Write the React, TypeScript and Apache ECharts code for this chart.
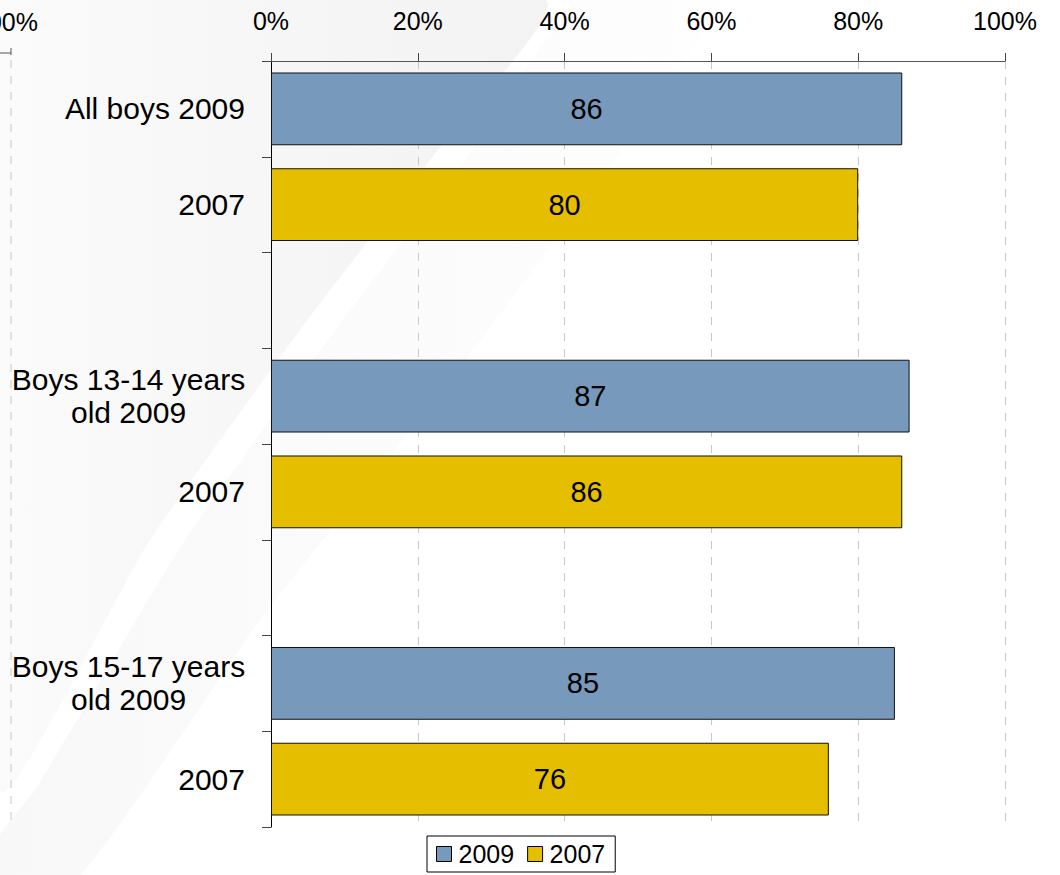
import React, { useEffect, useRef } from "react";
import * as echarts from "echarts";

const categories = [
  "All boys 2009",
  "2007",
  "",
  "Boys 13-14 years\nold 2009",
  "2007",
  "",
  "Boys 15-17 years\nold 2009",
  "2007",
];
const seriesNames = ["2009", "2007"];
const values2009: (number | string)[] = [86, "-", "-", 87, "-", "-", 85, "-"];
const values2007: (number | string)[] = ["-", 80, "-", "-", 86, "-", "-", 76];
const xTicks = [0, 20, 40, 60, 80, 100];

const FONT = "'Liberation Sans', Arial, sans-serif";

export default function App() {
  const ref = useRef<HTMLDivElement>(null);
  useEffect(() => {
    if (!ref.current) return;
    const chart = echarts.init(ref.current, undefined, { renderer: "svg" });
    const axisKeys = categories.map((_, i) => "c" + i);
    const option: any = {
      animation: false,
      backgroundColor: "#ffffff",
      textStyle: { fontFamily: FONT },
      graphic: [
        {
          type: "polygon",
          z: -10,
          silent: true,
          shape: {
            points: [
              [0, 0],
              [545, 0],
              [430, 160],
              [300, 330],
              [150, 540],
              [0, 790],
            ],
            smooth: 0.2,
          },
          style: {
            fill: {
              type: "linear",
              x: 0,
              y: 0,
              x2: 1,
              y2: 0,
              colorStops: [
                { offset: 0, color: "#fbfbfb" },
                { offset: 0.7, color: "#f5f5f5" },
                { offset: 1, color: "#f3f3f3" },
              ],
            },
          },
        },
        {
          type: "polygon",
          z: -10,
          silent: true,
          shape: {
            points: [
              [580, 0],
              [720, 0],
              [600, 180],
              [450, 380],
              [260, 620],
              [80, 875],
              [0, 875],
              [0, 835],
              [35, 790],
              [185, 540],
              [335, 330],
              [465, 160],
            ],
            smooth: 0.15,
          },
          style: {
            fill: {
              type: "linear",
              x: 0,
              y: 0,
              x2: 1,
              y2: 0,
              colorStops: [
                { offset: 0, color: "#f8f8f8" },
                { offset: 1, color: "#fefefe" },
              ],
            },
          },
        },
        {
          type: "text",
          z: 10,
          style: {
            text: "100%",
            x: 38,
            y: 22,
            align: "right",
            verticalAlign: "middle",
            fontSize: 25,
            fontFamily: FONT,
            fill: "#000",
          },
        },
        {
          type: "line",
          z: 10,
          shape: { x1: 0, y1: 53, x2: 11, y2: 53 },
          style: { stroke: "#555", lineWidth: 1 },
        },
        {
          type: "line",
          z: 10,
          shape: { x1: 11, y1: 48, x2: 11, y2: 55 },
          style: { stroke: "#555", lineWidth: 1 },
        },
        {
          type: "line",
          z: 10,
          shape: { x1: 11, y1: 60, x2: 11, y2: 827 },
          style: { stroke: "#c8c8c8", lineWidth: 1, lineDash: [8, 8] },
        },
      ],
      grid: { left: 271, right: 55, top: 61, bottom: 48, containLabel: false },
      legend: {
        data: seriesNames,
        left: 427,
        top: 836,
        orient: "horizontal",
        backgroundColor: "#ffffff",
        borderColor: "#000",
        borderWidth: 1,
        borderRadius: 0,
        padding: [4, 10, 4, 9],
        itemGap: 13,
        itemWidth: 15,
        itemHeight: 15,
        icon: "rect",
        itemStyle: { borderColor: "#000", borderWidth: 1 },
        textStyle: { fontSize: 25, color: "#000", fontFamily: FONT, lineHeight: 28, padding: [0, 0, 0, 2] },
      },
      xAxis: {
        type: "value",
        position: "top",
        min: 0,
        max: 100,
        interval: 20,
        axisLine: { show: true, lineStyle: { color: "#555", width: 1 } },
        axisTick: { show: true, length: 8, lineStyle: { color: "#444" } },
        axisLabel: {
          formatter: (v: number) => (xTicks.includes(v) ? v + "%" : ""),
          fontSize: 25,
          color: "#000",
          fontFamily: FONT,
          margin: 28,
        },
        splitLine: { show: true, lineStyle: { color: "#c8c8c8", type: [8, 8], width: 1 } },
      },
      yAxis: {
        type: "category",
        inverse: true,
        data: axisKeys,
        axisLine: { show: true, lineStyle: { color: "#000", width: 1 } },
        axisTick: { show: true, length: 9, lineStyle: { color: "#444" } },
        axisLabel: {
          interval: 0,
          fontSize: 30,
          color: "#000",
          fontFamily: FONT,
          margin: 26,
          lineHeight: 33,
          formatter: (_v: string, i: number) => {
            const c = categories[i];
            if (c.includes("\n")) {
              return c
                .split("\n")
                .map((s) => "{m|" + s + "}")
                .join("\n");
            }
            return c;
          },
          rich: {
            m: { width: 233, align: "center", fontSize: 30, lineHeight: 33, color: "#000", fontFamily: FONT },
          },
        },
        splitLine: { show: false },
      },
      series: [
        {
          name: seriesNames[0],
          type: "bar",
          stack: "s",
          data: values2009,
          barCategoryGap: "24%",
          itemStyle: { color: "#7799bb", borderColor: "#111", borderWidth: 1 },
          label: { show: true, position: "inside", fontSize: 29, color: "#000", fontFamily: FONT },
        },
        {
          name: seriesNames[1],
          type: "bar",
          stack: "s",
          data: values2007,
          barCategoryGap: "24%",
          itemStyle: { color: "#e6be00", borderColor: "#111", borderWidth: 1 },
          label: { show: true, position: "inside", fontSize: 29, color: "#000", fontFamily: FONT },
        },
      ],
    };
    chart.setOption(option);
    return () => chart.dispose();
  }, []);
  return (
    <div
      ref={ref}
      style={{ position: "fixed", left: 0, top: 0, width: 1060, height: 875 }}
    />
  );
}
